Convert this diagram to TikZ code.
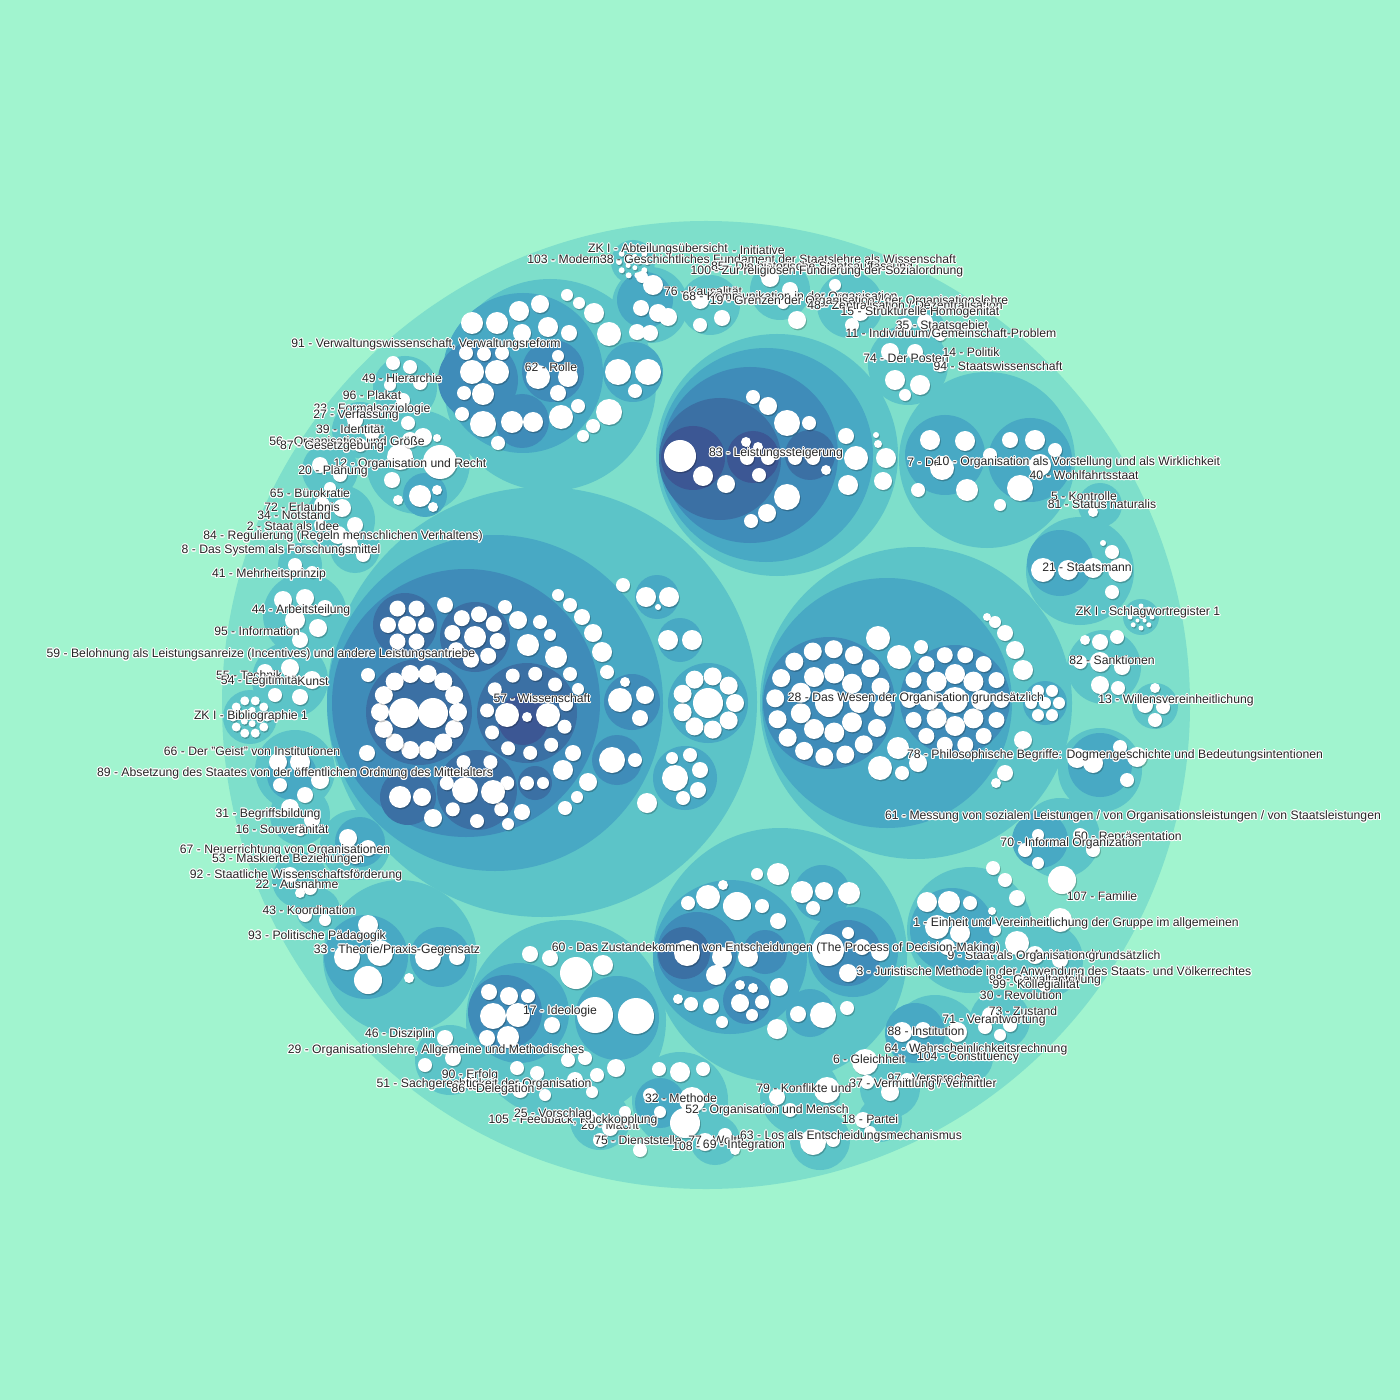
\documentclass[tikz,border=0pt]{standalone}
\usepackage{fontspec}
\setmainfont{Liberation Sans}
\usepackage{tikz}
\usepackage[copies]{contour}
\contourlength{0.45pt}
\definecolor{bgc}{HTML}{A1F4CF}
\definecolor{cA}{HTML}{7EDFCB}
\definecolor{cB}{HTML}{5CC4C8}
\definecolor{cC}{HTML}{48A9C4}
\definecolor{cD}{HTML}{3F8CB9}
\definecolor{cE}{HTML}{3B70A4}
\definecolor{cF}{HTML}{3C5794}
\definecolor{txt}{HTML}{262626}
\tikzstyle{lv1}=[fill=cA]
\tikzstyle{lv2}=[fill=cB]
\tikzstyle{lv3}=[fill=cC]
\tikzstyle{lv4}=[fill=cD]
\tikzstyle{lv5}=[fill=cE]
\tikzstyle{lv6}=[fill=cF]
\tikzstyle{leaf}=[fill=white, preaction={fill=black, opacity=0.22, transform canvas={shift={(0.5pt,-0.7pt)}}}]
\tikzstyle{lab}=[font=\fontsize{6.1}{7}\selectfont, text=txt, inner sep=0pt]
\newcommand{\ct}[1]{\contour{white}{#1}}
% ring of n white bubbles: cx, cy, distance, n, radius, phase
\newcommand{\bubring}[6]{\foreach \k in {1,...,#4}{\fill[leaf] ([shift={(#1,#2)}]{#6+360*\k/#4}:#3) circle (#5);}}

\begin{document}
\begin{tikzpicture}[x=0.5pt, y=-0.5pt]
    \useasboundingbox (0,0) rectangle (1400,1400);
    \fill[bgc] (0,0) rectangle (1400,1400);
    \fill[lv1] (706,705) circle (484);

    % groups
    \foreach \x/\y/\r in {542/702/215, 916/703/156, 777/455/121, 550/385/106, 780/955/127, 566/1020/100,
        987/460/88, 400/957/77, 418/462/52, 1080/571/54, 970/930/63, 650/305/38, 680/1100/48,
        633/262/22, 1141/617/18, 250/717/27, 1104/667/37, 1155/706/23, 1100/770/42, 1060/838/40,
        935/1040/45, 800/1095/40, 890/1088/30, 820/1140/30, 880/1120/22, 715/1140/25, 600/1120/30,
        580/1070/30, 450/1060/35, 530/1075/28, 300/815/30, 355/845/35, 300/880/28, 318/910/22,
        295/770/40, 290/680/38, 305/615/42, 340/520/35, 300/565/22, 355/548/25, 405/388/32,
        360/430/28, 330/470/28, 710/305/30, 780/290/30, 850/305/33, 920/330/25, 908/365/40,
        1100/505/22, 1045/960/38, 1000/1020/30, 968/1058/25}
        \fill[lv2] (\x,\y) circle (\r);
    \foreach \x/\y/\r in {495/703/168, 887/703/125, 766/455/107, 523/373/80, 633/372/30, 730/957/77,
        853/952/45, 822/893/28, 810/1013/24, 519/1013/50, 617/1018/42, 945/455/40, 1030/460/42,
        1060/563/33, 952/930/42, 366/957/42, 440/957/30, 645/300/28, 660/1103/25, 425/495/22,
        1100/765/32, 1040/840/28, 915/1033/30, 292/775/25, 360/842/25, 657/597/22, 680/640/22,
        708/703/40, 685/778/32, 1045/703/22}
        \fill[lv3] (\x,\y) circle (\r);
    \foreach \x/\y/\r in {466/703/134, 632/702/28, 617/760/25, 829/703/66, 955/700/55, 750/455/88,
        478/380/40, 553/371/31, 522/421/27, 697/952/40, 747/1000/24, 765/952/22, 848/953/33, 505/1012/37}
        \fill[lv4] (\x,\y) circle (\r);
    \foreach \x/\y/\r in {405/625/32, 475/637/35, 419/712/53, 527/713/50, 477/790/40, 408/797/28,
        535/783/17, 720/459/61, 810/455/25, 684/953/26}
        \fill[lv5] (\x,\y) circle (\r);
    \foreach \x/\y/\r in {523/720/25, 693/458/32, 753/457/26}
        \fill[lv6] (\x,\y) circle (\r);

    % bubbles
    \bubring{407}{625}{19}{6}{8}{0}
    \bubring{475}{637}{23}{8}{8}{10}
    \bubring{419}{712}{39}{14}{9}{0}
    \bubring{527}{713}{40}{11}{7}{20}
    \bubring{477}{790}{31}{7}{7}{90}
    \bubring{708}{703}{27}{9}{9}{0}
    \bubring{829}{703}{30}{9}{10}{0}
    \bubring{829}{703}{54}{16}{9}{5}
    \bubring{955}{700}{26}{8}{10}{0}
    \bubring{955}{700}{46}{14}{8}{0}
    \bubring{1045}{703}{14}{6}{6}{0}
    \bubring{1141}{617}{11}{8}{2.5}{0}
    \bubring{1141}{617}{5}{4}{2}{45}
    \bubring{633}{262}{14}{10}{3}{0}
    \bubring{633}{262}{6}{5}{2.5}{0}
    \bubring{250}{717}{17}{10}{4.5}{0}
    \bubring{250}{717}{7}{5}{3.5}{0}
    \foreach \x/\y/\r in {407/625/9, 475/637/11, 404/713/15, 433/713/15, 507/715/12, 548/715/12, 527/717/5,
        465/790/13, 493/792/12, 400/797/11, 422/797/9, 527/783/7, 543/783/6,
        368/675/7, 367/753/8, 433/818/9, 445/605/8, 505/607/7, 518/620/9, 528/645/11, 540/622/7,
        550/635/6, 556/657/11, 570/674/7, 578/689/6, 573/753/8, 563/770/10, 588/782/9, 577/797/6,
        565/808/7, 522/812/8, 508/824/6, 558/595/6, 570/605/7, 582/617/8, 593/633/9, 602/652/10,
        607/672/7, 620/700/12, 645/695/9, 640/718/8, 625/682/5, 612/760/13, 635/760/7, 647/803/10,
        646/597/10, 669/597/10, 658/607/3, 668/640/10, 692/640/10, 708/703/15, 675/778/13,
        700/770/8, 698/790/8, 683/798/7, 672/758/6, 690/755/7, 623/585/7}
        \fill[leaf] (\x,\y) circle (\r);
    \foreach \x/\y/\r in {829/703/14, 955/700/13, 878/638/12, 899/657/12, 921/647/7, 898/748/11,
        880/768/12, 902/773/7, 918/763/9, 987/617/4, 995/622/6, 1005/633/8, 1015/650/9,
        1023/670/10, 1023/740/9, 1005/773/8, 996/783/5, 1045/703/6}
        \fill[leaf] (\x,\y) circle (\r);
    \foreach \x/\y/\r in {680/456/16, 703/476/10, 726/484/9, 753/397/7, 768/406/9, 787/423/13,
        809/423/7, 746/442/5, 758/447/5, 747/458/7, 768/458/7, 759/475/7, 787/497/13, 767/513/9,
        751/521/7, 795/458/7, 813/458/7, 826/470/5, 846/436/8, 856/458/12, 848/485/10, 876/435/3,
        878/444/4, 886/458/10, 883/481/9}
        \fill[leaf] (\x,\y) circle (\r);
    \foreach \x/\y/\r in {472/323/11, 497/323/11, 519/311/10, 540/304/9, 548/327/10, 522/333/9,
        569/333/8, 567/295/6, 579/303/6, 594/313/10, 609/334/12, 466/353/7, 484/354/7, 502/353/7,
        472/372/12, 497/372/12, 464/393/7, 483/394/11, 462/414/7, 483/424/13, 498/443/7, 512/422/11,
        533/422/10, 561/417/12, 578/406/7, 593/426/7, 583/436/6, 609/412/13, 538/377/12, 568/377/10,
        558/393/8, 558/356/6, 618/372/13, 648/372/13, 635/391/7}
        \fill[leaf] (\x,\y) circle (\r);
    \foreach \x/\y/\r in {688/903/7, 708/897/12, 723/885/5, 737/906/14, 762/906/7, 778/921/8,
        757/874/6, 778/874/11, 802/892/11, 824/891/9, 849/893/11, 813/908/7, 687/953/13, 722/957/10,
        748/957/10, 716/975/10, 828/950/16, 848/933/6, 862/947/8, 880/952/9, 848/973/9, 779/987/9,
        740/985/5, 753/988/5, 762/1002/7, 740/1003/9, 752/1015/6, 678/999/5, 691/1004/7, 711/1006/8,
        722/1022/6, 777/1029/10, 798/1014/8, 823/1015/13, 847/1008/7}
        \fill[leaf] (\x,\y) circle (\r);
    \foreach \x/\y/\r in {489/992/8, 509/996/9, 528/996/7, 493/1016/13, 518/1015/12, 487/1038/8,
        508/1037/11, 552/1025/8, 595/1015/18, 636/1016/18, 530/954/8, 550/958/8, 576/973/16,
        603/965/10, 568/1060/7, 585/1058/7, 597/1075/7, 575/1080/8, 592/1092/6, 616/1068/9,
        659/1069/7, 680/1072/10, 703/1069/7, 692/1100/13, 685/1123/15, 650/1095/7, 660/1112/6}
        \fill[leaf] (\x,\y) circle (\r);
    \foreach \x/\y/\r in {930/440/10, 965/441/10, 942/468/12, 967/490/11, 990/455/7, 1010/440/8,
        1035/440/10, 1040/465/11, 1020/488/13, 1000/505/6, 1055/450/7, 918/490/7,
        1043/570/12, 1068/570/10, 1093/568/10, 1120/570/12, 1112/552/7, 1103/543/3, 1112/592/7,
        1085/640/5, 1100/642/8, 1117/637/7, 1080/662/7, 1100/662/10, 1122/667/8, 1100/685/9,
        1118/688/7, 1155/688/5, 1145/705/8, 1163/707/7, 1155/720/7, 1077/758/10, 1093/763/10,
        1127/780/7, 1137/757/10, 1120/747/7, 1038/835/6, 1025/850/7, 1038/863/6, 1080/835/7,
        1093/850/7, 1062/880/14, 1093/512/5, 1105/498/4}
        \fill[leaf] (\x,\y) circle (\r);
    \foreach \x/\y/\r in {927/902/10, 949/902/11, 970/903/7, 992/911/4, 993/868/7, 1005/880/7,
        1017/898/8, 937/927/12, 960/933/10, 947/947/8, 1017/943/12, 995/930/6, 1060/920/12,
        1035/955/9, 1060/960/8, 1045/985/7, 1020/980/6, 990/1015/8, 1010/1025/7, 1000/1035/6,
        902/1032/10, 923/1030/8, 957/1032/10, 865/1062/13, 913/1047/7, 985/1027/7, 827/1090/13,
        777/1097/8, 790/1110/7, 867/1082/7, 890/1092/9, 907/1080/7, 813/1142/13, 833/1140/7,
        863/1120/8, 870/1132/6, 705/1142/9, 725/1135/7, 735/1150/5, 590/1120/9, 610/1128/8,
        600/1140/7, 625/1112/6, 640/1150/7}
        \fill[leaf] (\x,\y) circle (\r);
    \foreach \x/\y/\r in {445/1038/8, 453/1058/8, 470/1082/7, 517/1068/7, 537/1073/7, 425/1065/7,
        545/1095/6, 520/1090/8, 368/925/10, 347/957/13, 380/953/13, 368/980/14, 428/957/13,
        457/957/8, 409/978/5, 290/808/9, 312/820/8, 300/830/6, 348/838/9, 368/848/8, 355/858/6,
        290/875/8, 310/888/7, 300/893/5, 305/915/7, 325/920/6, 278/762/9, 300/762/10, 320/780/9,
        305/795/8, 280/785/7, 265/672/8, 290/668/9, 312/680/9, 300/697/8, 275/695/7, 283/600/9,
        305/598/9, 325/608/8, 295/620/10, 318/628/9, 300/640/8, 322/505/8, 342/508/9, 355/525/8,
        338/535/9, 320/525/6, 295/565/7, 312/572/6, 350/545/8, 363/555/7}
        \fill[leaf] (\x,\y) circle (\r);
    \foreach \x/\y/\r in {393/363/7, 410/367/7, 420/383/7, 403/400/7, 390/385/6, 355/420/8,
        372/432/8, 360/445/7, 320/465/8, 340/475/7, 330/488/6, 440/462/17, 400/457/13, 423/437/9,
        437/438/4, 410/440/8, 392/480/8, 398/500/5, 408/423/7, 420/496/11, 437/490/5, 433/507/5,
        642/277/6, 653/285/10, 641/308/8, 658/313/9, 637/332/8, 650/333/8, 668/317/9, 700/300/9,
        722/318/8, 700/325/7, 722/293/6, 770/278/9, 790/290/8, 797/320/9, 783/303/6, 840/300/8,
        860/312/9, 852/325/7, 835/285/6, 905/325/7, 925/322/8, 940/335/6, 890/352/9, 915/352/8,
        895/380/10, 920/385/10, 940/365/7, 905/395/6}
        \fill[leaf] (\x,\y) circle (\r);

    % labels, top
    \path
    (527,260) node[lab, anchor=west] (t103) {\ct{103 - Moderne}}
    (658,250) node[lab] (tZKa) {\ct{ZK I - Abteilungsübersicht}}
    (785,251) node[lab, anchor=east] (tIni) {\ct{- Initiative}}
    (778,260) node[lab] (t38) {\ct{38 - Geschichtliches Fundament der Staatslehre als Wissenschaft}}
    (812,268) node[lab] (t85) {\ct{85 - Die historische Staatsauffassung}}
    (827,272) node[lab] (t100) {\ct{100 - Zur religiösen Fundierung der Sozialordnung}}
    (703,292) node[lab] (t76) {\ct{76 - Kausalität}}
    (790,298) node[lab] (t68) {\ct{68 - Kommunikation in der Organisation}}
    (859,302) node[lab] (t19) {\ct{19 - Grenzen der Organisation / der Organisationslehre}}
    (905,306) node[lab] (t48) {\ct{48 - Zentralisation / Dezentralisation}}
    (920,313) node[lab] (t15) {\ct{15 - Strukturelle Homogenität}}
    (942,327) node[lab] (t35) {\ct{35 - Staatsgebiet}}
    (951,334) node[lab] (t11) {\ct{11 - Individuum/Gemeinschaft-Problem}}
    (906,359) node[lab] (t74) {\ct{74 - Der Posten}}
    (971,353) node[lab] (t14) {\ct{14 - Politik}}
    (998,367) node[lab] (t94) {\ct{94 - Staatswissenschaft}}
    (426,345) node[lab] (t91) {\ct{91 - Verwaltungswissenschaft, Verwaltungsreform}}
    (551,368) node[lab] (t62) {\ct{62 - Rolle}}
    (776,454) node[lab] (t83) {\ct{83 - Leistungssteigerung}};

    % labels, left
    \path
    (402,379) node[lab] (t49) {\ct{49 - Hierarchie}}
    (372,396) node[lab] (t96) {\ct{96 - Plakat}}
    (372,410) node[lab] (t23) {\ct{23 - Formalsoziologie}}
    (356,416) node[lab] (t27) {\ct{27 - Verfassung}}
    (350,430) node[lab] (t39) {\ct{39 - Identität}}
    (347,443) node[lab] (t56) {\ct{56 - Organisation und Größe}}
    (332,447) node[lab] (t87) {\ct{87 - Gesetzgebung}}
    (410,465) node[lab] (t12) {\ct{12 - Organisation und Recht}}
    (333,472) node[lab] (t20) {\ct{20 - Planung}}
    (310,494) node[lab] (t65) {\ct{65 - Bürokratie}}
    (302,508) node[lab] (t72) {\ct{72 - Erlaubnis}}
    (294,516) node[lab] (t34) {\ct{34 - Notstand}}
    (293,527) node[lab] (t2) {\ct{2 - Staat als Idee}}
    (343,537) node[lab] (t84) {\ct{84 - Regulierung (Regeln menschlichen Verhaltens)}}
    (281,551) node[lab] (t8) {\ct{8 - Das System als Forschungsmittel}}
    (269,575) node[lab] (t41) {\ct{41 - Mehrheitsprinzip}}
    (301,611) node[lab] (t44) {\ct{44 - Arbeitsteilung}}
    (257,632) node[lab] (t95) {\ct{95 - Information}}
    (261,655) node[lab] (t59) {\ct{59 - Belohnung als Leistungsanreize (Incentives) und andere Leistungsantriebe}}
    (249,676) node[lab] (t55) {\ct{55 - Technik}}
    (261,682) node[lab] (t54) {\ct{54 - Legitimität}}
    (329,682) node[lab, anchor=east] (tKunst) {\ct{Kunst}}
    (251,717) node[lab] (tZKb) {\ct{ZK I - Bibliographie 1}}
    (252,752) node[lab] (t66) {\ct{66 - Der "Geist" von Institutionen}}
    (295,774) node[lab] (t89) {\ct{89 - Absetzung des Staates von der öffentlichen Ordnung des Mittelalters}}
    (542,699) node[lab] (t57) {\ct{57 - Wissenschaft}}
    (268,815) node[lab] (t31) {\ct{31 - Begriffsbildung}}
    (282,830) node[lab] (t16) {\ct{16 - Souveränität}}
    (285,851) node[lab] (t67) {\ct{67 - Neuerrichtung von Organisationen}}
    (288,860) node[lab] (t53) {\ct{53 - Maskierte Beziehungen}}
    (296,876) node[lab] (t92) {\ct{92 - Staatliche Wissenschaftsförderung}}
    (297,885) node[lab] (t22) {\ct{22 - Ausnahme}}
    (309,911) node[lab] (t43) {\ct{43 - Koordination}}
    (317,937) node[lab] (t93) {\ct{93 - Politische Pädagogik}}
    (397,951) node[lab] (t33) {\ct{33 - Theorie/Praxis-Gegensatz}};

    % labels, right
    \path
    (907,463) node[lab, anchor=west] (t7) {\ct{7 - De}}
    (1078,463) node[lab] (t10) {\ct{10 - Organisation als Vorstellung und als Wirklichkeit}}
    (1084,476) node[lab] (t40) {\ct{40 - Wohlfahrtsstaat}}
    (1084,497) node[lab] (t5) {\ct{5 - Kontrolle}}
    (1102,505) node[lab] (t81) {\ct{81 - Status naturalis}}
    (1087,568) node[lab] (t21) {\ct{21 - Staatsmann}}
    (1148,613) node[lab] (tZKc) {\ct{ZK I - Schlagwortregister 1}}
    (1112,661) node[lab] (t82) {\ct{82 - Sanktionen}}
    (1176,701) node[lab] (t13) {\ct{13 - Willensvereinheitlichung}}
    (916,699) node[lab] (t28) {\ct{28 - Das Wesen der Organisation grundsätzlich}}
    (1115,756) node[lab] (t78) {\ct{78 - Philosophische Begriffe: Dogmengeschichte und Bedeutungsintentionen}}
    (1133,817) node[lab] (t61) {\ct{61 - Messung von sozialen Leistungen / von Organisationsleistungen / von Staatsleistungen}}
    (1128,838) node[lab] (t50) {\ct{50 - Repräsentation}}
    (1071,844) node[lab] (t70) {\ct{70 - Informal Organization}}
    (1102,897) node[lab] (t107) {\ct{107 - Familie}}
    (1076,924) node[lab] (t1) {\ct{1 - Einheit und Vereinheitlichung der Gruppe im allgemeinen}}
    (1067,955) node[lab] (t4) {\ct{4 - Vetorecht}}
    (1054,957) node[lab] (t9) {\ct{9 - Staat als Organisation grundsätzlich}}
    (1054,973) node[lab] (t3) {\ct{3 - Juristische Methode in der Anwendung des Staats- und Völkerrechtes}}
    (1045,981) node[lab] (t98) {\ct{98 - Gewaltenteilung}}
    (1036,986) node[lab] (t99) {\ct{99 - Kollegialität}}
    (1021,996) node[lab] (t30) {\ct{30 - Revolution}}
    (1023,1012) node[lab] (t73) {\ct{73 - Zustand}}
    (994,1021) node[lab] (t71) {\ct{71 - Verantwortung}};

    % labels, bottom
    \path
    (776,949) node[lab] (t60) {\ct{60 - Das Zustandekommen von Entscheidungen (The Process of Decision-Making)}}
    (560,1012) node[lab] (t17) {\ct{17 - Ideologie}}
    (926,1032) node[lab] (t88) {\ct{88 - Institution}}
    (976,1050) node[lab] (t64) {\ct{64 - Wahrscheinlichkeitsrechnung}}
    (968,1058) node[lab] (t104) {\ct{104 - Constituency}}
    (869,1060) node[lab] (t6) {\ct{6 - Gleichheit}}
    (934,1080) node[lab] (t97) {\ct{97 - Versprechen}}
    (923,1085) node[lab] (t37) {\ct{37 - Vermittlung / Vermittler}}
    (756,1089) node[lab, anchor=west] (t79) {\ct{79 - Konflikte und}}
    (870,1120) node[lab] (t18) {\ct{18 - Partei}}
    (767,1111) node[lab] (t52) {\ct{52 - Organisation und Mensch}}
    (681,1099) node[lab] (t32) {\ct{32 - Methode}}
    (851,1137) node[lab] (t63) {\ct{63 - Los als Entscheidungsmechanismus}}
    (638,1141) node[lab] (t75) {\ct{75 - Dienststelle}}
    (688,1141) node[lab, anchor=west] (t77) {\ct{77 - Wolth}}
    (672,1147) node[lab, anchor=west] (t108) {\ct{108 -}}
    (744,1146) node[lab] (t69) {\ct{69 - Integration}}
    (610,1126) node[lab] (t26) {\ct{26 - Macht}}
    (573,1121) node[lab] (t105) {\ct{105 - Feedback, Rückkopplung}}
    (553,1115) node[lab] (t25) {\ct{25 - Vorschlag}}
    (470,1076) node[lab] (t90) {\ct{90 - Erfolg}}
    (484,1085) node[lab] (t51) {\ct{51 - Sachgerechtigkeit der Organisation}}
    (493,1090) node[lab] (t86) {\ct{86 - Delegation}}
    (400,1035) node[lab] (t46) {\ct{46 - Disziplin}}
    (436,1051) node[lab] (t29) {\ct{29 - Organisationslehre, Allgemeine und Methodisches}};
\end{tikzpicture}
\end{document}
